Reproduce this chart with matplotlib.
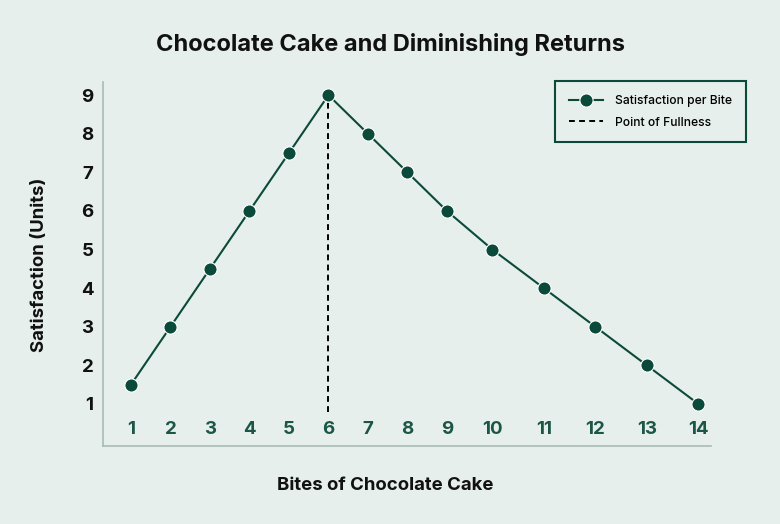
import matplotlib
matplotlib.use("Agg")
import matplotlib.pyplot as plt

# data
bites = [1, 2, 3, 4, 5, 6, 7, 8, 9, 10, 11, 12, 13, 14]
satisfaction = [1.5, 3, 4.5, 6, 7.5, 9, 8, 7, 6, 5, 4, 3, 2, 1]
fullness_bite = 6
y_ticks = [1, 2, 3, 4, 5, 6, 7, 8, 9]

bg = "#e6efec"
green = "#0b4a3a"

# categorical x scale: each slot is as wide as its label plus a fixed gap
gap, char_w = 27.5, 12.0
x_pos = [0.0]
for a, b in zip(bites[:-1], bites[1:]):
    x_pos.append(x_pos[-1] + gap + char_w * (len(str(a)) + len(str(b))) / 2)
pos_of = dict(zip(bites, x_pos))

plt.rcParams['font.family'] = ['Inter', 'DejaVu Sans']

fig = plt.figure(figsize=(7.8, 5.24), dpi=100, facecolor=bg)
ax = fig.add_axes([103 / 780, 1 - 446 / 524, 608 / 780, 364 / 524])
ax.set_facecolor(bg)

ax.plot(x_pos, satisfaction, color=green, lw=1.5, marker='o', markersize=9.5,
        markeredgecolor='white', markeredgewidth=0.8, label='Satisfaction per Bite', zorder=3)
ax.vlines(pos_of[fullness_bite], 0.8, max(satisfaction), colors='black', linestyles=(0, (3, 2.2)),
          lw=1.4, label='Point of Fullness', zorder=2)

ax.set_xlim(x_pos[0] - 28, x_pos[-1] + 12.7)
ax.set_ylim(-0.09, 9.34)
ax.set_xticks(x_pos)
ax.set_xticklabels([str(b) for b in bites])
ax.set_yticks(y_ticks)

ax.tick_params(axis='x', length=0, pad=-18, labelsize=13.5, labelcolor='#1b5646')
ax.tick_params(axis='y', length=0, pad=7, labelsize=13.5, labelcolor='#111111')
for lab in ax.get_xticklabels() + ax.get_yticklabels():
    lab.set_fontweight('bold')

for s in ['top', 'right']:
    ax.spines[s].set_visible(False)
for s in ['left', 'bottom']:
    ax.spines[s].set_color('#a9bbb5')
    ax.spines[s].set_linewidth(1.2)

fig.text(390 / 780, 1 - 45 / 524, 'Chocolate Cake and Diminishing Returns', ha='center', va='center',
         fontsize=17, fontweight='bold', color='#111111')
fig.text(385 / 780, 1 - 486 / 524, 'Bites of Chocolate Cake', ha='center', va='center',
         fontsize=13.4, fontweight='bold', color='#111111')
fig.text(40 / 780, 1 - 265 / 524, 'Satisfaction (Units)', ha='center', va='center', rotation=90,
         fontsize=13.4, fontweight='bold', color='#111111')

leg = ax.legend(loc='upper right', bbox_to_anchor=(746 / 780, 1 - 81 / 524), bbox_transform=fig.transFigure,
                fancybox=False, framealpha=1, facecolor=bg, edgecolor=green, fontsize=8.7,
                borderpad=1.15, labelspacing=0.8, handlelength=2.8, handletextpad=1.0, borderaxespad=0)
leg.get_frame().set_linewidth(1.5)
for t in leg.get_texts():
    t.set_fontweight('medium')

fig.savefig('out.png', dpi=100, facecolor=bg)
